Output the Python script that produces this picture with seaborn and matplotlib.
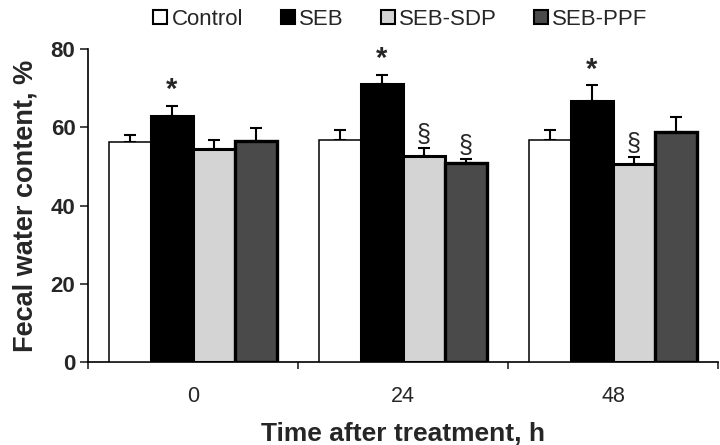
import matplotlib
matplotlib.use('Agg')
import matplotlib.pyplot as plt
from matplotlib.lines import Line2D
import pandas as pd
import seaborn as sns

# Data (mean and upper SD bar)
times = ['0', '24', '48']
groups = ['Control', 'SEB', 'SEB-SDP', 'SEB-PPF']
control = [56.3, 56.8, 56.8]
control_sd = [1.6, 2.4, 2.4]
seb = [62.8, 71.0, 66.8]
seb_sd = [2.7, 2.4, 3.9]
seb_sdp = [54.5, 52.6, 50.6]
seb_sdp_sd = [2.3, 2.0, 1.7]
seb_ppf = [56.4, 50.9, 58.7]
seb_ppf_sd = [3.3, 1.0, 4.0]

# significance marks: (time index, group, symbol)
marks = [(0, 'SEB', '*'), (1, 'SEB', '*'), (2, 'SEB', '*'),
         (1, 'SEB-SDP', '§'), (1, 'SEB-PPF', '§'), (2, 'SEB-SDP', '§')]

colors = {'Control': 'white', 'SEB': 'black', 'SEB-SDP': '#d4d4d4', 'SEB-PPF': '#4a4a4a'}
edge_w = {'Control': 1.1, 'SEB': 2.2, 'SEB-SDP': 2.2, 'SEB-PPF': 2.4}

means = {'Control': control, 'SEB': seb, 'SEB-SDP': seb_sdp, 'SEB-PPF': seb_ppf}
sds = {'Control': control_sd, 'SEB': seb_sd, 'SEB-SDP': seb_sdp_sd, 'SEB-PPF': seb_ppf_sd}

rows = []
for g in groups:
    for t, v, s in zip(times, means[g], sds[g]):
        rows.append({'time': t, 'group': g, 'value': v, 'sd': s})
df = pd.DataFrame(rows)

sns.set_style('ticks')
plt.rcParams['font.family'] = ['Liberation Sans', 'DejaVu Sans']

fig, ax = plt.subplots(figsize=(7.2, 4.45), dpi=100)
fig.subplots_adjust(left=0.1222, right=0.9972, top=0.8899, bottom=0.1865)

sns.barplot(data=df, x='time', y='value', hue='group', order=times,
            hue_order=groups, palette=colors, saturation=1, errorbar=None,
            width=0.8, legend=False, ax=ax)

# edges and upper error bars
centers = {}
for g, cont in zip(groups, ax.containers):
    for i, p in enumerate(cont.patches):
        p.set_edgecolor('black')
        p.set_linewidth(edge_w[g])
        p.set_zorder(3)
        cx = p.get_x() + p.get_width() / 2
        centers[(i, g)] = cx
        top = p.get_height()
        sd = sds[g][i]
        ax.errorbar(cx, top, yerr=[[0], [sd]], color='black', lw=1.5,
                    capsize=4.5, capthick=1.5, zorder=2)

for i, g, sym in marks:
    top = means[g][i] + sds[g][i]
    if sym == '*':
        ax.annotate(sym, (centers[(i, g)], top), xytext=(0, 1), textcoords='offset points',
                    ha='center', va='bottom', fontsize=21, fontweight='bold',
                    annotation_clip=False)
    else:
        ax.annotate(sym, (centers[(i, g)], top), xytext=(0, 1), textcoords='offset points',
                    ha='center', va='bottom', fontsize=18, annotation_clip=False)

ax.set_ylim(0, 80)
ax.set_xlim(-0.5, 2.5)
ax.set_yticks([0, 20, 40, 60, 80])
ax.tick_params(axis='y', length=6, width=1.2, direction='out', labelsize=16, pad=3)
for lbl in ax.get_yticklabels():
    lbl.set_fontweight('bold')
ax.set_xticks([-0.5, 0.5, 1.5, 2.5], minor=True)
ax.tick_params(axis='x', which='major', length=0, labelsize=15.5, pad=17)
ax.tick_params(axis='x', which='minor', length=5, width=1.2, direction='out')

for side in ['top', 'right']:
    ax.spines[side].set_visible(False)
for side in ['left', 'bottom']:
    ax.spines[side].set_linewidth(1.2)
    ax.spines[side].set_color('black')

ax.set_xlabel('Time after treatment, h', fontsize=19, fontweight='bold', labelpad=11)
ax.set_ylabel('Fecal water content, %', fontsize=19.5, fontweight='bold', labelpad=9)

handles = [Line2D([], [], marker='s', linestyle='none', markersize=10,
                  markerfacecolor=colors[g], markeredgecolor='black', markeredgewidth=1.5)
           for g in groups]
fig.legend(handles, groups, loc='upper center', bbox_to_anchor=(0.555, 1.005), ncol=4,
           frameon=False, fontsize=16, handletextpad=0.1, columnspacing=1.6,
           handlelength=0.8, borderaxespad=0.1)

fig.savefig('out.png', dpi=100)
